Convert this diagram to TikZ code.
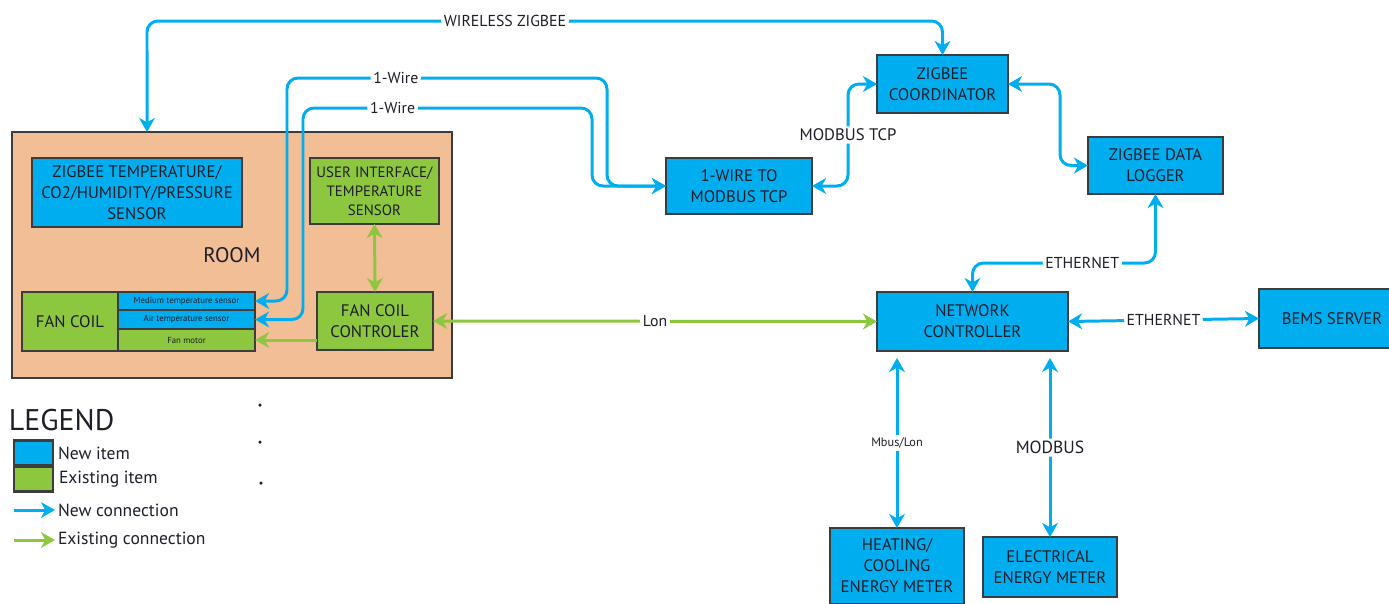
\documentclass[tikz,border=0pt]{standalone}
\usepackage{fontspec}
\setmainfont{PT Sans}
\usetikzlibrary{arrows.meta}

\definecolor{newblue}{HTML}{00AEEF}
\definecolor{oldgreen}{HTML}{8DC63F}
\definecolor{roomfill}{HTML}{F2BE96}
\definecolor{boxline}{HTML}{3C3C3C}
\definecolor{ink}{HTML}{1E1E2A}

\begin{document}
\begin{tikzpicture}[x=0.02cm,y=-0.02cm,
	every node/.style={inner sep=0pt,outer sep=0pt,text=ink},
	>={Stealth[length=8pt,width=9pt,inset=2.5pt]},
	unit/.style={draw=boxline,line width=0.9pt,align=center,font=\fontsize{9.5}{12}\selectfont},
	newbox/.style={unit,fill=newblue},
	oldbox/.style={unit,fill=oldgreen},
	partbox/.style={draw=boxline,line width=0.9pt,minimum width=2.74cm,font=\fontsize{5}{6}\selectfont},
	keybox/.style={draw=boxline,line width=1.2pt,minimum width=0.78cm,minimum height=0.5cm},
	newlink/.style={draw=newblue,line width=1.7pt,rounded corners=0.22cm},
	oldlink/.style={draw=oldgreen,line width=1.7pt},
	lbl/.style={fill=white,inner sep=1.5pt,font=\fontsize{9}{10}\selectfont},
	keytext/.style={anchor=west,font=\fontsize{10}{12}\selectfont}]
	\path[use as bounding box,clip] (0,0) rectangle (1389,603);

	% room with its devices
	\node[draw=boxline,line width=1.2pt,fill=roomfill,minimum width=8.8cm,minimum height=4.92cm,font=\fontsize{12}{14}\selectfont] (room) at (232,255) {ROOM};
	\node[newbox,minimum width=4.2cm,minimum height=1.38cm] (zsens) at (137,192.5) {ZIGBEE TEMPERATURE/\\CO2/HUMIDITY/PRESSURE\\SENSOR};
	\node[oldbox,minimum width=2.58cm,minimum height=1.32cm,font=\fontsize{8.5}{10.8}\selectfont] (ui) at (374.5,191) {USER INTERFACE/\\TEMPERATURE\\SENSOR};
	\node[oldbox,minimum width=1.92cm,minimum height=1.18cm] (fancoil) at (70,321.5) {FAN COIL};
	\node[partbox,fill=newblue,minimum height=0.36cm] (msens) at (186.5,301) {Medium temperature sensor};
	\node[partbox,fill=newblue,minimum height=0.38cm] (asens) at (186.5,319.5) {Air temperature sensor};
	\node[partbox,fill=oldgreen,minimum height=0.44cm] (fmot) at (186.5,340) {Fan motor};
	\node[oldbox,minimum width=2.32cm,minimum height=1.16cm] (fcc) at (375,321) {FAN COIL\\CONTROLER};

	% building network
	\node[newbox,minimum width=2.92cm,minimum height=1.12cm] (w2m) at (739,186) {1-WIRE TO\\MODBUS TCP};
	\node[newbox,minimum width=2.62cm,minimum height=1.16cm] (zcoord) at (942.5,84) {ZIGBEE\\COORDINATOR};
	\node[newbox,minimum width=2.7cm,minimum height=1.14cm] (zlog) at (1155.5,165.5) {ZIGBEE DATA\\LOGGER};
	\node[newbox,minimum width=3.82cm,minimum height=1.18cm] (netc) at (972.5,321.5) {NETWORK\\CONTROLLER};
	\node[newbox,minimum width=2.92cm,minimum height=1.18cm] (bems) at (1332,318.5) {BEMS SERVER};
	\node[newbox,minimum width=2.68cm,minimum height=1.52cm] (heat) at (897,566) {HEATING/\\COOLING\\ENERGY METER};
	\node[newbox,minimum width=2.68cm,minimum height=1.2cm] (elec) at (1050,567) {ELECTRICAL\\ENERGY METER};

	% links
	\draw[newlink,<->] ([xshift=-1.7cm]room.north) -- (147,21) -- node[lbl,pos=0.45] {WIRELESS ZIGBEE} (zcoord.north |- 0,21) -- (zcoord.north);
	\draw[newlink,<->] (msens.east) -| (287,78) -- node[lbl,pos=0.34] {1-Wire} (607,78) |- (w2m.west);
	\draw[newlink,<->] (asens.east) -| (303,108) -- node[lbl,pos=0.31] {1-Wire} (592,108) |- (w2m.west);
	\draw[newlink,<->] (w2m.east) -- (848,186) -- node[lbl,font=\fontsize{9.5}{11}\selectfont] {MODBUS TCP} (848,84) -- (zcoord.west);
	\draw[newlink,<->] (zcoord.east) -- (1060,84) |- (zlog.west);
	\draw[newlink,<->] (zlog.south) -- (1155.5,263) -- node[lbl,pos=0.4] {ETHERNET} (netc.north |- 0,263) -- (netc.north);
	\draw[newlink,<->] (netc.east) -- node[lbl] {ETHERNET} (bems.west);
	\draw[newlink,<->] ([yshift=-0.14cm]netc.south -| heat.north) -- node[lbl,font=\fontsize{7}{8}\selectfont] {Mbus/Lon} (heat.north);
	\draw[newlink,<->] ([yshift=-0.14cm]netc.south -| elec.north) -- node[lbl,font=\fontsize{10}{12}\selectfont] {MODBUS} (elec.north);
	\draw[oldlink,<->] (fcc.east) -- node[lbl] {Lon} (netc.west);
	\draw[oldlink,<->] (ui.south) -- (fcc.north);
	\draw[oldlink,->] (fcc.west |- fmot) -- (fmot.east);

	% legend
	\node[anchor=west,font=\fontsize{17}{20}\selectfont] (legend) at (9,420) {LEGEND};
	\node[keybox,fill=newblue] (newkey) at (33.5,453) {};
	\node[keybox,fill=oldgreen] (oldkey) at (33.5,479) {};
	\node[keytext] (newitem) at (58,453) {New item};
	\node[keytext] (olditem) at (59,479) {Existing item};
	\coordinate (newfrom) at (14,510);
	\coordinate (oldfrom) at (14,540);
	\node[keytext] (newcon) at (58,510) {New connection};
	\node[keytext] (oldcon) at (58,540) {Existing connection};
	\draw[newlink,->] (newfrom) -- ([xshift=-0.06cm]newcon.west);
	\draw[oldlink,->] (oldfrom) -- ([xshift=-0.06cm]oldcon.west);

	\fill[ink] (260,405) circle[radius=0.035cm];
	\fill[ink] (260,442) circle[radius=0.035cm];
	\fill[ink] (261,483) circle[radius=0.035cm];
\end{tikzpicture}
\end{document}
